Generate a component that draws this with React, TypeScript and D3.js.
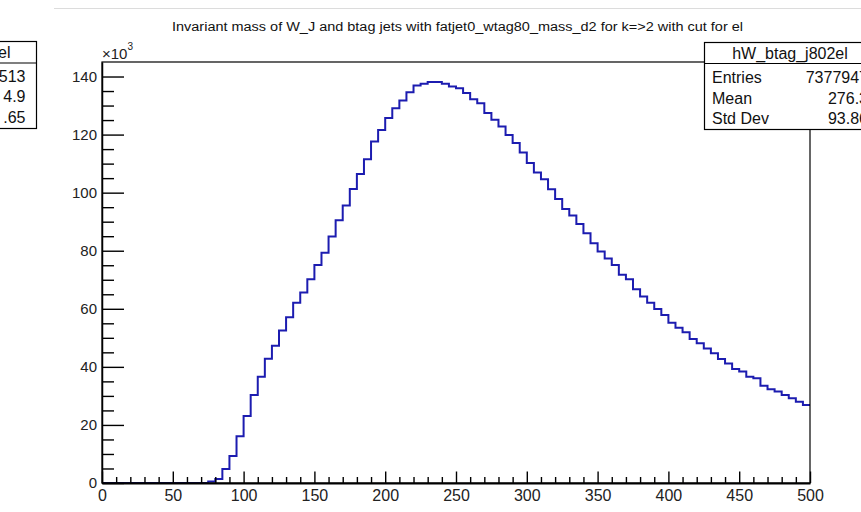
import React, { useEffect, useRef } from "react";
import * as d3 from "d3";

// bin contents in units of 10^3, bins of width 5 from 0 to 500
const binLow = 0;
const binWidth = 5;
const counts = [
  0, 0, 0, 0, 0, 0, 0, 0, 0, 0,
  0, 0, 0, 0, 0, 0.5, 1.4, 4.8, 9.3, 16.1,
  23.1, 30.3, 36.6, 42.8, 47.3, 52.5, 57.1, 62.1, 65.6, 70.2,
  75.1, 79.3, 84.9, 90.5, 95.6, 101.3, 106.4, 111.5, 117.6, 121.6,
  125.7, 129.1, 131.7, 134.6, 136.9, 137.5, 138.1, 138.1, 137.5, 136.6,
  136.0, 134.3, 132.2, 130.8, 127.4, 125.1, 122.8, 119.9, 117.1, 113.8,
  110.2, 106.9, 104.6, 101.2, 97.8, 94.4, 92.1, 89.2, 86.0, 82.6,
  79.7, 77.3, 75.1, 71.7, 70.2, 66.7, 64.2, 62.1, 59.9, 57.9,
  55.2, 53.5, 51.9, 49.6, 48.1, 46.3, 44.7, 42.7, 41.2, 39.3,
  38.4, 36.6, 36.1, 33.5, 32.3, 31.5, 30.3, 29.2, 28.0, 26.9,
];

const xMajor = [0, 50, 100, 150, 200, 250, 300, 350, 400, 450, 500];
const yMajor = [0, 20, 40, 60, 80, 100, 120, 140];

const title =
  "Invariant mass of W_J and btag jets with fatjet0_wtag80_mass_d2 for k=>2 with cut for el";

const statName = "hW_btag_j802el";
const statLabels = ["Entries", "Mean", "Std Dev"];
const statValues = ["7377947", "276.3", "93.86"];

const prevName = "el";
const prevValues = ["513", "4.9", ".65"];

const App = () => {
  const svgRef = useRef<SVGSVGElement>(null);

  useEffect(() => {
    const svg = d3.select(svgRef.current);
    svg.selectAll("*").remove();

    const W = 861;
    const H = 512;
    const left = 102;
    const right = 810;
    const top = 62;
    const bottom = 483;
    const font = "'Liberation Sans', Arial, Helvetica, sans-serif";

    svg.append("rect").attr("width", W).attr("height", H).attr("fill", "#fff");

    // edge of the pad above
    svg.append("line")
      .attr("x1", 54).attr("x2", W).attr("y1", 8.5).attr("y2", 8.5)
      .attr("stroke", "#dcdcdc").attr("stroke-width", 1);

    const x = d3.scaleLinear().domain([0, 500]).range([left, right]);
    const y = d3.scaleLinear().domain([0, 145]).range([bottom, top]);

    // histogram line
    const pts = counts.map((c, i) => [binLow + i * binWidth, c]);
    pts.push([binLow + counts.length * binWidth, counts[counts.length - 1]]);
    const line = d3.line()
      .x((d) => x(d[0]))
      .y((d) => y(d[1]))
      .curve(d3.curveStepAfter);
    svg.append("path")
      .datum(pts)
      .attr("fill", "none")
      .attr("stroke", "#1c1cb0")
      .attr("stroke-width", 2)
      .attr("d", line);

    // frame
    svg.append("rect")
      .attr("x", left).attr("y", top)
      .attr("width", right - left).attr("height", bottom - top)
      .attr("fill", "none").attr("stroke", "#000").attr("stroke-width", 1.2);

    // y axis
    const yMinor = d3.range(0, 145, 5).filter((v) => v % 20 !== 0);
    const gy = svg.append("g").attr("transform", `translate(${left},0)`);
    gy.call(d3.axisLeft(y).tickValues(yMajor).tickSize(-22).tickSizeOuter(0).tickPadding(5));
    gy.call((g) => g.select(".domain").attr("stroke-width", 1.5));
    const gy2 = svg.append("g").attr("transform", `translate(${left},0)`);
    gy2.call(d3.axisLeft(y).tickValues(yMinor).tickSize(-12).tickSizeOuter(0).tickFormat(() => ""));
    gy2.select(".domain").remove();

    // x axis
    const xMinor = d3.range(0, 501, 10).filter((v) => v % 50 !== 0);
    const gx = svg.append("g").attr("transform", `translate(0,${bottom})`);
    gx.call(d3.axisBottom(x).tickValues(xMajor).tickSize(-11.5).tickSizeOuter(0).tickPadding(7));
    gx.call((g) => g.select(".domain").attr("stroke-width", 2.2));
    const gx2 = svg.append("g").attr("transform", `translate(0,${bottom})`);
    gx2.call(d3.axisBottom(x).tickValues(xMinor).tickSize(-6).tickSizeOuter(0).tickFormat(() => ""));
    gx2.select(".domain").remove();

    svg.selectAll(".tick line").attr("stroke", "#000").attr("stroke-width", 1.4);
    gy.selectAll("text").attr("font-family", font).attr("font-size", 15).attr("fill", "#222");
    gx.selectAll("text").attr("font-family", font).attr("font-size", 16).attr("fill", "#222");

    // x10^3
    const exp = svg.append("text")
      .attr("x", 102).attr("y", 59)
      .attr("font-family", font).attr("font-size", 15).attr("fill", "#222");
    exp.append("tspan").text("\u00d710");
    exp.append("tspan").attr("font-size", 10).attr("dy", -9).text("3");

    // title
    svg.append("text")
      .attr("x", 172).attr("y", 31)
      .attr("textLength", 571).attr("lengthAdjust", "spacingAndGlyphs")
      .attr("font-family", font).attr("font-size", 12.5).attr("fill", "#111")
      .text(title);

    // stats box
    const sb = svg.append("g");
    sb.append("rect")
      .attr("x", 704.5).attr("y", 42.5).attr("width", 200).attr("height", 87)
      .attr("fill", "#fff").attr("stroke", "#000").attr("stroke-width", 1.2);
    sb.append("line")
      .attr("x1", 704.5).attr("x2", W).attr("y1", 63.5).attr("y2", 63.5)
      .attr("stroke", "#000").attr("stroke-width", 1.2);
    sb.append("text")
      .attr("x", 790).attr("y", 58.5).attr("text-anchor", "middle")
      .attr("font-family", font).attr("font-size", 16).attr("fill", "#111")
      .text(statName);
    statLabels.forEach((lab, i) => {
      sb.append("text")
        .attr("x", 712).attr("y", 83 + i * 20.5)
        .attr("font-family", font).attr("font-size", 16).attr("fill", "#111")
        .text(lab);
      sb.append("text")
        .attr("x", 868).attr("y", 83 + i * 20.5).attr("text-anchor", "end")
        .attr("font-family", font).attr("font-size", 16).attr("fill", "#111")
        .text(statValues[i]);
    });

    // stats box of the neighbouring pad, cut at the left
    const pb = svg.append("g");
    pb.append("rect")
      .attr("x", -100).attr("y", 41.5).attr("width", 136.5).attr("height", 87)
      .attr("fill", "#fff").attr("stroke", "#000").attr("stroke-width", 1.2);
    pb.append("line")
      .attr("x1", 0).attr("x2", 36.5).attr("y1", 63).attr("y2", 63)
      .attr("stroke", "#000").attr("stroke-width", 1.2);
    pb.append("text")
      .attr("x", 10.5).attr("y", 58).attr("text-anchor", "end")
      .attr("font-family", font).attr("font-size", 16).attr("fill", "#111")
      .text(prevName);
    prevValues.forEach((v, i) => {
      pb.append("text")
        .attr("x", 25.5).attr("y", 81.5 + i * 20.5).attr("text-anchor", "end")
        .attr("font-family", font).attr("font-size", 16).attr("fill", "#111")
        .text(v);
    });
  }, []);

  return (
    <svg
      ref={svgRef}
      width={861}
      height={512}
      style={{ position: "absolute", left: 0, top: 0 }}
    ></svg>
  );
};

export default App;
